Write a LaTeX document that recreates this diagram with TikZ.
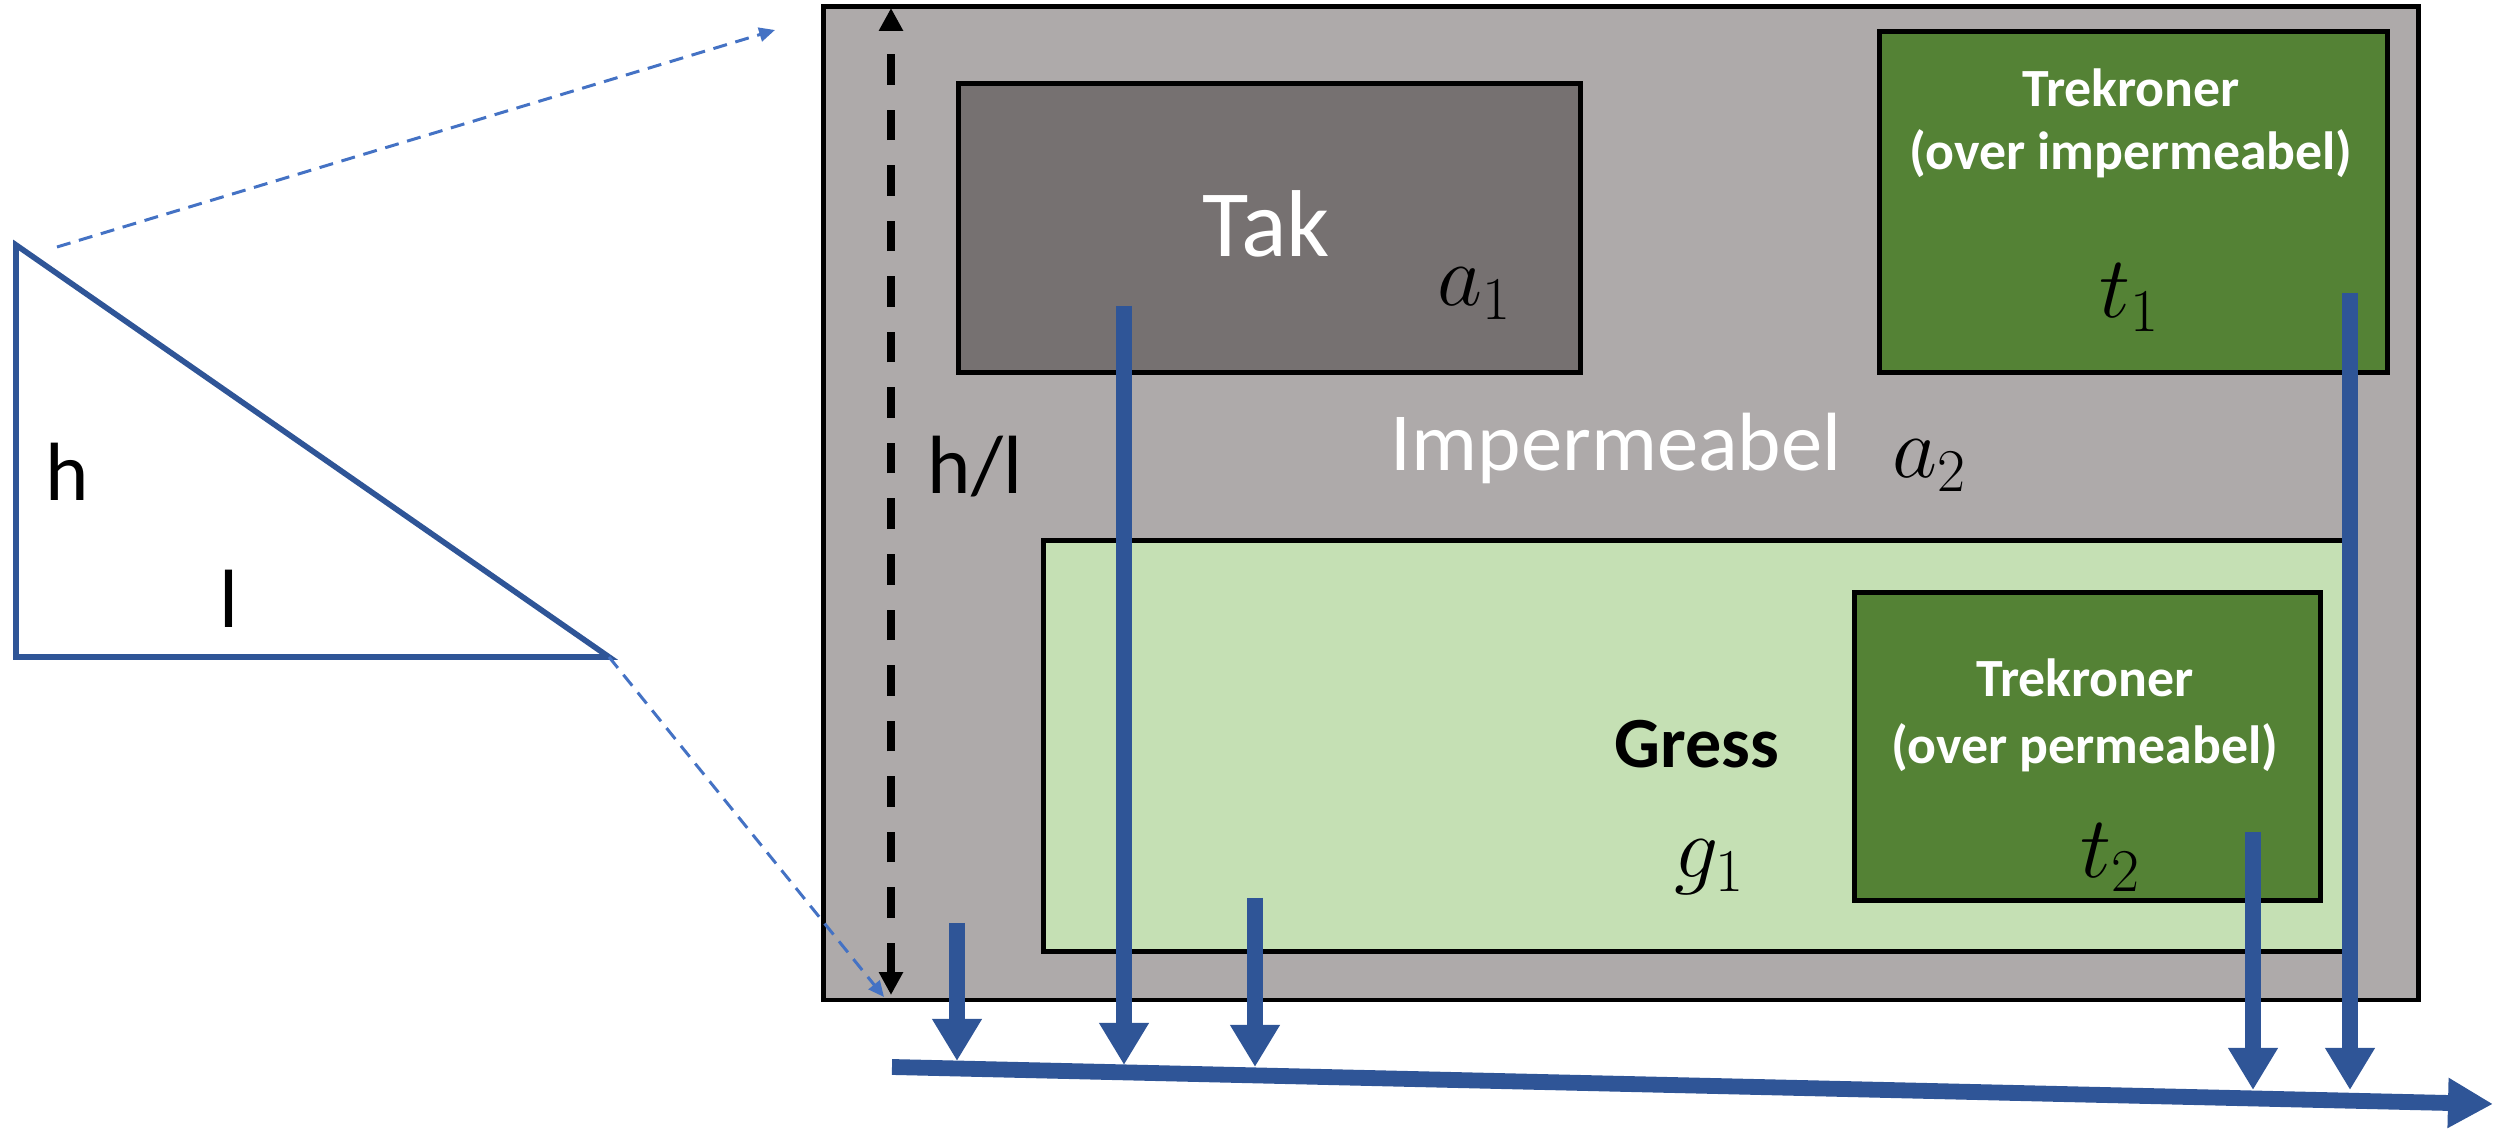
\documentclass[tikz,border=0pt]{standalone}
\usepackage{fontspec}
\setmainfont{Carlito}
\usetikzlibrary{arrows.meta}
\definecolor{sitegray}{HTML}{AEAAAA}
\definecolor{roofgray}{HTML}{767171}
\definecolor{treegreen}{HTML}{548235}
\definecolor{grassgreen}{HTML}{C5E0B4}
\definecolor{flowblue}{HTML}{2F5597}
\definecolor{guideblue}{HTML}{4472C4}
\newcommand{\fs}[1]{\fontsize{#1}{1.2\dimexpr#1pt\relax}\selectfont}
\begin{document}
\begin{tikzpicture}[x=0.01cm,y=-0.01cm,
  area/.style={draw=black, line width=1.4pt, anchor=north west, inner sep=0pt},
  lbl/.style={anchor=base, inner sep=0pt},
  treelbl/.style={lbl, text=white, font=\bfseries\fs{15.3}},
  mathlbl/.style={lbl, font=\fs{24}},
  flow/.style={draw=flowblue, line width=4.5pt, -{Triangle[length=12pt,width=13.4pt]}},
  guide/.style={draw=guideblue, line width=0.85pt, dash pattern=on 4pt off 2.5pt,
    -{Triangle[length=4.5pt,width=4pt]}},
  dim/.style={draw=black, line width=2.3pt, dash pattern=on 8.7pt off 7.1pt,
    {Triangle[length=6.5pt,width=6.5pt]}-{Triangle[length=6.5pt,width=6.5pt]}},
  slope/.style={draw=flowblue, line width=1.6pt, line join=miter}
]
\useasboundingbox (0,0) rectangle (2496,1131);

% slope triangle
\coordinate (ta) at (16,245);
\coordinate (tb) at (16,657);
\coordinate (tc) at (609,657);
\draw[slope] (ta) -- (tb) -- (tc) -- cycle;
\node[lbl, font=\fs{23.5}] (hlab) at (67,501) {h};
\node[lbl, font=\fs{23.5}] (llab) at (229,628) {l};

% catchment areas
\node[area, fill=sitegray, minimum width=15.94cm, minimum height=9.93cm] (site) at (821,4) {};
\node[area, fill=roofgray, minimum width=6.22cm, minimum height=2.89cm] (roof) at (956,81) {};
\node[area, fill=treegreen, minimum width=5.08cm, minimum height=3.41cm] (tree1) at (1877,29) {};
\node[area, fill=grassgreen, minimum width=13.04cm, minimum height=4.11cm] (grass) at (1041,538) {};
\node[area, fill=treegreen, minimum width=4.66cm, minimum height=3.08cm] (tree2) at (1852,590) {};

% labels
\node[lbl, text=white, font=\fs{27}] (roofname) at (1266,257) {Tak};
\node[mathlbl] (a1) at (1475,306) {$a_1$};
\node[treelbl] (tree1name) at (2131,107) {Trekroner};
\node[treelbl] (tree1sub) at (2131,170) {(over impermeabel)};
\node[mathlbl] (t1) at (2130,318) {$t_1$};
\node[lbl, text=white, font=\fs{23.5}] (impname) at (1616,471) {Impermeabel};
\node[mathlbl] (a2) at (1930,478) {$a_2$};
\node[lbl, font=\fs{23.5}] (grad) at (975,494) {h/l};
\node[lbl, font=\bfseries\fs{20.5}] (grassname) at (1697,768) {Gress};
\node[mathlbl] (g1) at (1710,878) {$g_1$};
\node[treelbl] (tree2name) at (2085,697) {Trekroner};
\node[treelbl] (tree2sub) at (2085,764) {(over permeabel)};
\node[mathlbl] (t2) at (2111,878) {$t_2$};

% slope dimension
\coordinate (dimtop) at (891,8);
\coordinate (dimbot) at (891,995);
\draw[dim] (dimbot) -- (dimtop);

% projection guides
\coordinate (guidestart) at (57,247);
\coordinate (guidetop) at (775,30);
\coordinate (guidebot) at (884,997);
\draw[guide] (guidestart) -- (guidetop);
\draw[guide] (tc) -- (guidebot);

% runoff flows
\coordinate (f0s) at (957,923);   \coordinate (f0e) at (957,1061);
\coordinate (f1s) at (1124,306);  \coordinate (f1e) at (1124,1065);
\coordinate (f2s) at (1255,898);  \coordinate (f2e) at (1255,1067);
\coordinate (f3s) at (2253,832);  \coordinate (f3e) at (2253,1090);
\coordinate (f4s) at (2350,293);  \coordinate (f4e) at (2350,1090);
\coordinate (outs) at (892,1067); \coordinate (oute) at (2493,1104);
\draw[flow] (f0s) -- (f0e);
\draw[flow] (f1s) -- (f1e);
\draw[flow] (f2s) -- (f2e);
\draw[flow] (f3s) -- (f3e);
\draw[flow] (f4s) -- (f4e);
\draw[flow, -{Triangle[length=12.8pt,width=13.4pt]}] (outs) -- (oute);
\end{tikzpicture}
\end{document}
